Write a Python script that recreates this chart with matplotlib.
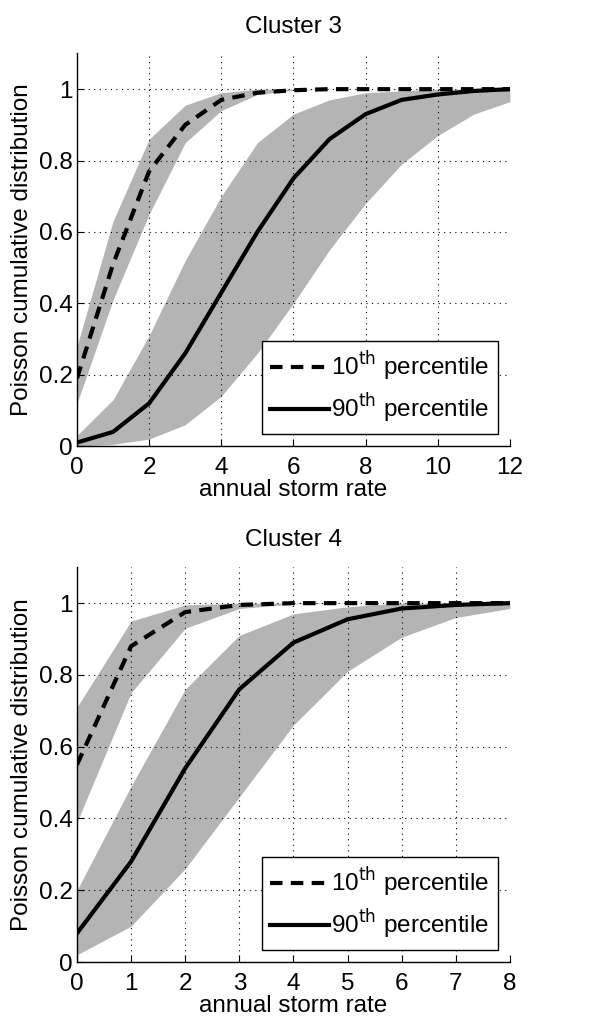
import numpy as np
import matplotlib
matplotlib.use('Agg')
import matplotlib.pyplot as plt

plt.rcParams['font.family'] = ['Liberation Sans', 'DejaVu Sans']

# Cluster 3
x3 = [0, 1, 2, 3, 4, 5, 6, 7, 8, 9, 10, 11, 12]
p10_c3 = [0.19, 0.51, 0.77, 0.90, 0.97, 0.99, 0.997, 1.0, 1.0, 1.0, 1.0, 1.0, 1.0]
p10_c3_hi = [0.28, 0.63, 0.86, 0.955, 0.99, 1.0, 1.0, 1.0, 1.0, 1.0, 1.0, 1.0, 1.0]
p10_c3_lo = [0.12, 0.41, 0.65, 0.85, 0.94, 0.985, 0.997, 1.0, 1.0, 1.0, 1.0, 1.0, 1.0]
p90_c3 = [0.01, 0.04, 0.12, 0.26, 0.43, 0.60, 0.75, 0.86, 0.93, 0.97, 0.985, 0.995, 1.0]
p90_c3_hi = [0.03, 0.13, 0.31, 0.52, 0.70, 0.85, 0.93, 0.97, 0.99, 0.995, 1.0, 1.0, 1.0]
p90_c3_lo = [0.0, 0.005, 0.02, 0.06, 0.14, 0.26, 0.40, 0.55, 0.68, 0.79, 0.87, 0.93, 0.965]

# Cluster 4
x4 = [0, 1, 2, 3, 4, 5, 6, 7, 8]
p10_c4 = [0.55, 0.88, 0.975, 0.995, 1.0, 1.0, 1.0, 1.0, 1.0]
p10_c4_hi = [0.71, 0.95, 0.995, 1.0, 1.0, 1.0, 1.0, 1.0, 1.0]
p10_c4_lo = [0.39, 0.75, 0.93, 0.985, 0.998, 1.0, 1.0, 1.0, 1.0]
p90_c4 = [0.08, 0.28, 0.54, 0.76, 0.89, 0.955, 0.985, 0.995, 1.0]
p90_c4_hi = [0.20, 0.49, 0.76, 0.91, 0.97, 0.99, 1.0, 1.0, 1.0]
p90_c4_lo = [0.02, 0.10, 0.26, 0.46, 0.66, 0.81, 0.905, 0.96, 0.985]

panels = [
    ('Cluster 3', x3, p10_c3, p10_c3_lo, p10_c3_hi, p90_c3, p90_c3_lo, p90_c3_hi, [0, 2, 4, 6, 8, 10, 12]),
    ('Cluster 4', x4, p10_c4, p10_c4_lo, p10_c4_hi, p90_c4, p90_c4_lo, p90_c4_hi, [0, 1, 2, 3, 4, 5, 6, 7, 8]),
]

fig = plt.figure(figsize=(6.14, 10.28), dpi=100)
positions = [[0.1254, 0.566, 0.705, 0.382], [0.1254, 0.0642, 0.705, 0.384]]
fsize = 17.5
band = '#b4b4b4'

for pos, (title, x, a, alo, ahi, b, blo, bhi, xt) in zip(positions, panels):
    ax = fig.add_axes(pos)
    ax.fill_between(x, alo, ahi, color=band, lw=0, zorder=1)
    ax.fill_between(x, blo, bhi, color=band, lw=0, zorder=1)
    ax.plot(x, a, 'k--', lw=3, dashes=(3, 2), label='10$^{\\rm th}$ percentile', zorder=3)
    ax.plot(x, b, 'k-', lw=3, label='90$^{\\rm th}$ percentile', zorder=3)
    ax.set_xlim(x[0], x[-1])
    ax.set_ylim(0, 1.1)
    ax.set_xticks(xt)
    ax.set_xticklabels([str(v) for v in xt])
    ax.set_yticks([0, 0.2, 0.4, 0.6, 0.8, 1.0])
    ax.set_yticklabels(['0', '0.2', '0.4', '0.6', '0.8', '1'])
    ax.grid(True, color='k', ls=(0, (1, 4)), lw=0.8, zorder=2)
    ax.set_axisbelow(False)
    for s in ['top', 'right']:
        ax.spines[s].set_visible(False)
    ax.spines['left'].set_linewidth(1)
    ax.spines['bottom'].set_linewidth(1)
    ax.tick_params(direction='in', length=5, labelsize=fsize)
    ax.tick_params(axis='x', pad=8)
    ax.tick_params(axis='y', pad=3)
    ax.set_title(title, fontsize=fsize, pad=15)
    ax.set_xlabel('annual storm rate', fontsize=fsize, labelpad=0)
    ax.set_ylabel('Poisson cumulative distribution', fontsize=fsize, labelpad=4)
    leg = ax.legend(loc='lower right', fontsize=fsize, frameon=True, fancybox=False,
                    edgecolor='k', framealpha=1, handlelength=2.4, handletextpad=0.1,
                    borderpad=0.35, labelspacing=0.35, borderaxespad=0.5)
    leg.get_frame().set_linewidth(1)

fig.savefig('out.png', dpi=100)
